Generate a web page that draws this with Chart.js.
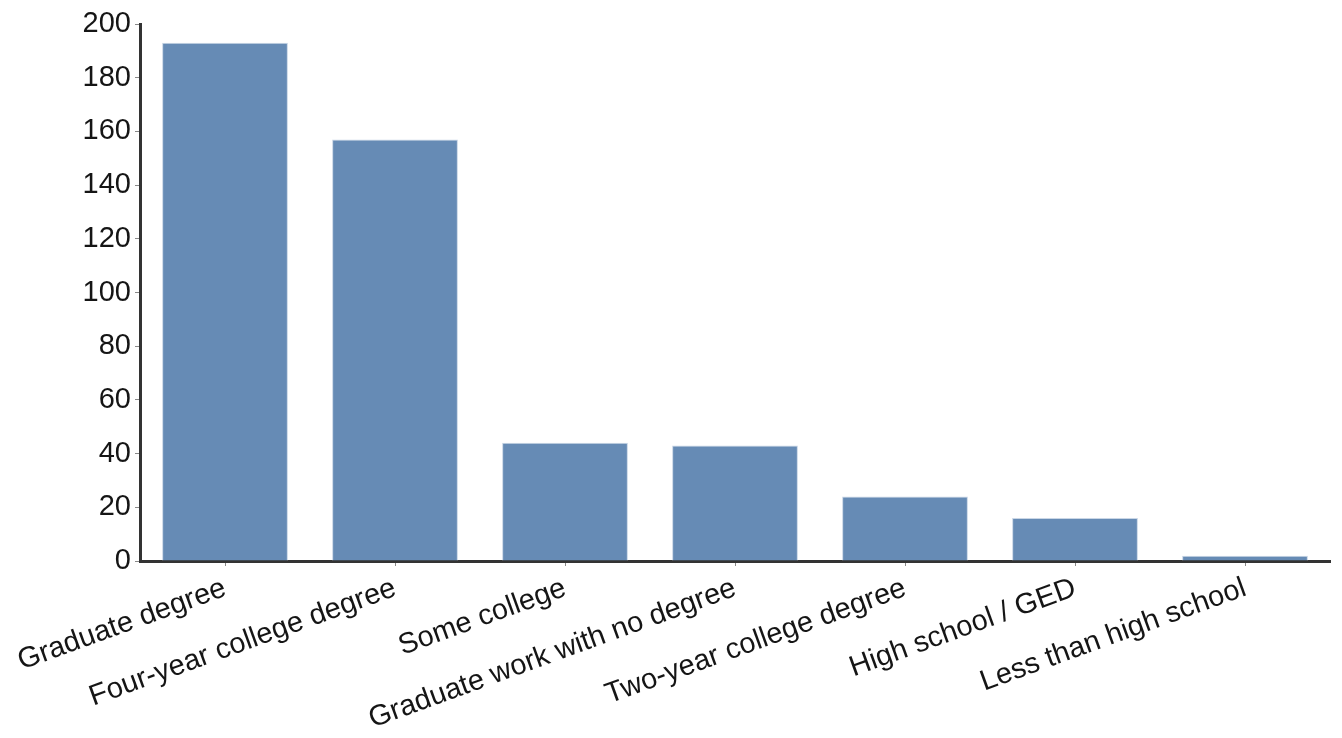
<!DOCTYPE html>
<html>
<head>
<meta charset="utf-8">
<script src="https://cdn.jsdelivr.net/npm/chart.js@4"></script>
<style>
  html, body { margin: 0; padding: 0; background: #fff; }
  #wrap { width: 1342px; height: 738px; }
</style>
</head>
<body>
<div id="wrap"><canvas id="eduChart"></canvas></div>
<script>
const categories = ['Graduate degree', 'Four-year college degree', 'Some college',
  'Graduate work with no degree', 'Two-year college degree', 'High school / GED',
  'Less than high school'];
const counts = [193, 157, 44, 43, 24, 16, 2];
const yTicks = [0, 20, 40, 60, 80, 100, 120, 140, 160, 180, 200];

document.addEventListener('DOMContentLoaded', () => {
  const ctx = document.getElementById('eduChart').getContext('2d');
  new Chart(ctx, {
    type: 'bar',
    data: {
      labels: categories,
      datasets: [{
        label: 'Count',
        data: counts,
        backgroundColor: '#668bb5',
        borderColor: '#c9d6e6',
        borderWidth: 1,
        categoryPercentage: 1,
        barPercentage: 0.74
      }]
    },
    options: {
      responsive: true,
      maintainAspectRatio: false,
      animation: false,
      layout: { padding: { top: 24, right: 12, left: 8, bottom: 0 } },
      plugins: { legend: { display: false }, tooltip: { enabled: false } },
      scales: {
        x: {
          afterFit: (axis) => { axis.height = 177; },
          grid: { offset: false, drawOnChartArea: false, tickLength: 5, color: '#888' },
          border: { color: '#333', width: 3 },
          ticks: {
            minRotation: 20, maxRotation: 20,
            color: '#151515',
            padding: 5,
            font: { family: 'Liberation Sans', size: 29 }
          }
        },
        y: {
          min: yTicks[0],
          max: yTicks[yTicks.length - 1],
          afterBuildTicks: (axis) => { axis.ticks = yTicks.map(v => ({ value: v })); },
          afterFit: (axis) => { axis.width = 132; },
          grid: { drawOnChartArea: false, tickLength: 5, color: '#888' },
          border: { color: '#333', width: 3 },
          ticks: {
            color: '#151515',
            padding: 4,
            font: { family: 'Liberation Sans', size: 29 }
          }
        }
      }
    }
  });
});
</script>
</body>
</html>
